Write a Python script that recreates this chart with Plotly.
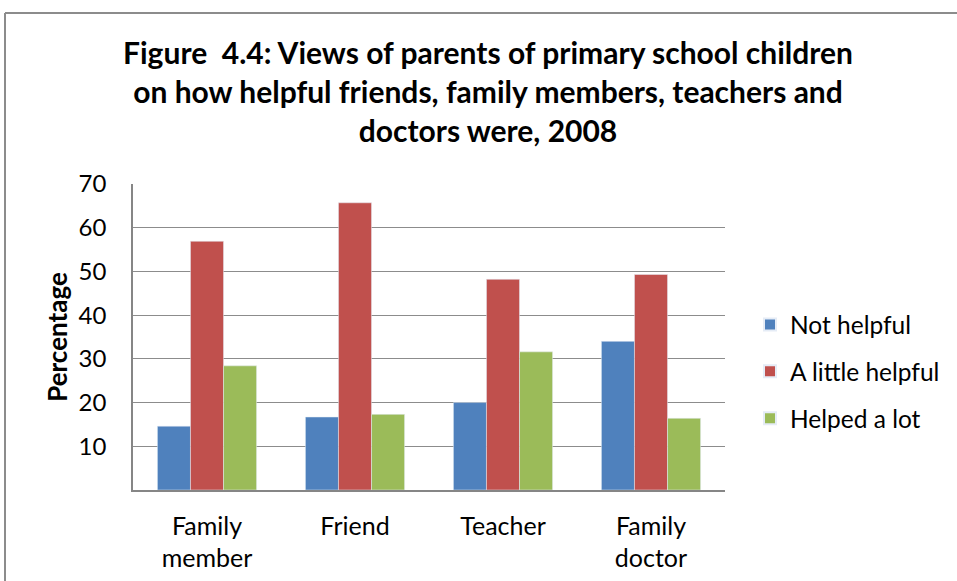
import plotly.graph_objects as go

categories = ["Family<br>member", "Friend", "Teacher", "Family<br>doctor"]
not_helpful = [14.6, 16.7, 20.0, 34.0]
a_little_helpful = [56.9, 65.7, 48.2, 49.3]
helped_a_lot = [28.4, 17.3, 31.6, 16.4]
y_ticks = [10, 20, 30, 40, 50, 60, 70]

W, H = 957, 581
L, R, T, B = 133, 232, 184, 91
pw, ph = W - L - R, H - T - B

fig = go.Figure()
fig.add_bar(x=categories, y=not_helpful, name="Not helpful", marker_color="#4F81BD", legendgroup="a")
fig.add_bar(x=categories, y=a_little_helpful, name="A little helpful", marker_color="#C0504D", legendgroup="b")
fig.add_bar(x=categories, y=helped_a_lot, name="Helped a lot", marker_color="#9BBB59", legendgroup="c")

font = "Lato, 'Open Sans', sans-serif"
fig.update_layout(
    width=W, height=H,
    margin=dict(l=L, r=R, t=T, b=B, autoexpand=False),
    paper_bgcolor="white", plot_bgcolor="white",
    barmode="group", bargap=0.33, bargroupgap=0,
    font=dict(family=font, size=24, color="#000000"),
    title=dict(
        text="<b>Figure  4.4: Views of parents of primary school children<br>on how helpful friends, family members, teachers and<br>doctors were, 2008</b>",
        x=488 / W, xanchor="center", xref="container",
        y=1 - 64 / H, yanchor="top", yref="container",
        font=dict(family=font, size=30, color="#000000"),
    ),
    showlegend=True,
    legend=dict(
        x=(750 - L) / pw, xanchor="left", y=1 - (302 - T) / ph, yanchor="top",
        font=dict(size=24.5), tracegroupgap=12, itemsizing="constant",
        bgcolor="rgba(0,0,0,0)",
    ),
    xaxis=dict(
        showline=True, linecolor="#868686", linewidth=1.5, ticks="",
        tickfont=dict(size=25, color="#000"), ticklabelstandoff=13,
    ),
    yaxis=dict(
        range=[0, 70], tickvals=y_ticks, showgrid=True, gridcolor="#8C8C8C", gridwidth=1.2,
        showline=True, linecolor="#868686", linewidth=1.5, ticks="",
        tickfont=dict(size=24, color="#000"), ticklabelstandoff=20,
        title=dict(text="<b>Percentage</b>", font=dict(size=26), standoff=4),
        zeroline=False,
    ),
)

top = 1 + (T - 13) / ph
left = (5 - L) / pw
fig.add_shape(type="line", xref="paper", yref="paper", x0=left, x1=(W - L) / pw, y0=top, y1=top,
              line=dict(color="#8C8C8C", width=2))
fig.add_shape(type="line", xref="paper", yref="paper", x0=left, x1=left, y0=top, y1=-(H - T - ph) / ph,
              line=dict(color="#8C8C8C", width=2))

fig.write_html("out.html", config={"displayModeBar": False},
               post_script="document.body.style.margin='0';")
